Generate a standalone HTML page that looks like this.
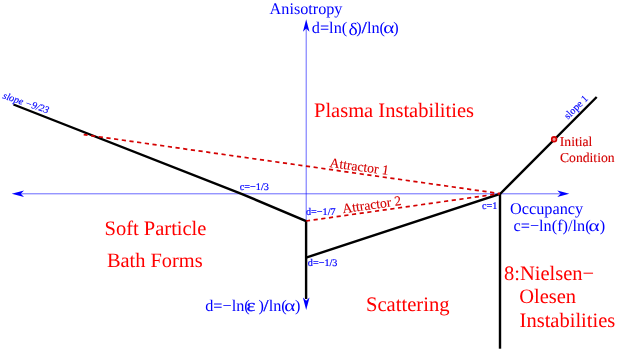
<!DOCTYPE html>
<html><head><meta charset="utf-8">
<style>
html,body{margin:0;padding:0;background:#fff;overflow:hidden;}
svg{display:block;will-change:transform;}
text{font-family:"Liberation Serif",serif;text-rendering:geometricPrecision;}
</style></head>
<body>
<svg width="623" height="351" viewBox="0 0 623 351">
<rect width="623" height="351" fill="#fff"/>
<!-- axes -->
<g stroke="#0000ff" stroke-width="0.6" fill="none">
<line x1="20" y1="193.8" x2="560" y2="193.8"/>
<line x1="306.2" y1="28" x2="306.2" y2="222"/>
</g>
<g fill="#0000ff" stroke="none">
<path d="M11.7 193.8 L24 190.55 L20.8 193.8 L24 197.05 Z"/>
<path d="M569.3 193.8 L557.3 190.55 L560.5 193.8 L557.3 197.05 Z"/>
<path d="M306.2 19.2 L302.95 31.8 L306.2 28.5 L309.45 31.8 Z"/>
</g>
<!-- black lines -->
<g stroke="#000" stroke-width="2.4" fill="none" stroke-linejoin="miter">
<polyline points="13.5,104.5 241.5,193.8 306.1,221.1 306.1,299"/>
<polyline points="306.1,257.6 500,194 596.7,97"/>
<line x1="500" y1="193.8" x2="500" y2="348.7"/>
</g>
<path d="M306.2 310 L302.9 297.5 L306.2 300.8 L309.5 297.5 Z" fill="#0000ff"/>
<!-- red dashed -->
<g stroke="#d40000" stroke-width="1.7" fill="none" stroke-dasharray="4.2 3.55" stroke-dashoffset="0.3">
<line x1="83.7" y1="134.6" x2="499.9" y2="193.6"/>
<line x1="306.2" y1="221" x2="499.9" y2="193.6"/>
</g>
<circle cx="554.1" cy="139.3" r="2.4" fill="#ee9090" stroke="#d40000" stroke-width="1.6"/>
<!-- labels -->
<g fill="#0000ff" font-size="16.3">
<text id="t1" x="269.6" y="14" font-size="16.2">Anisotropy</text>
<text x="311.8" y="33.3">d=ln(</text>
<text transform="translate(348.6,35.4) scale(1.2,1.07)">δ</text>
<text x="356.3" y="33.3">)</text>
<text transform="translate(361.7,33.3) scale(1.1,1)" stroke="#0000ff" stroke-width="0.35">/</text>
<text x="366.9" y="33.3">ln(</text>
<text transform="translate(383.2,33.3) scale(1.3,1)">α</text>
<text x="393.2" y="33.3">)</text>
<text id="t3" x="510" y="213.7">Occupancy</text>
<text x="513.5" y="231.4">c=−ln(f)/ln(</text>
<text transform="translate(588.4,231.4) scale(1.3,1)">α</text>
<text x="599.8" y="231.4">)</text>
<text x="205.2" y="310.8">d=−ln(</text>
<text transform="translate(246.5,310.9) scale(1.3,1.05)" stroke="#0000ff" stroke-width="0.25">ε</text>
<text x="258.4" y="310.8">)</text>
<text transform="translate(263.6,310.8) scale(1.1,1)" stroke="#0000ff" stroke-width="0.35">/</text>
<text x="268.7" y="310.8">ln(</text>
<text transform="translate(284.3,310.8) scale(1.3,1)">α</text>
<text x="295" y="310.8">)</text>
</g>
<g fill="#0000ff" font-size="10.2" stroke="#0000ff" stroke-width="0.2">
<text id="s1" x="239.8" y="190">c=−1/3</text>
<text id="s2" x="306" y="215.4">d=−1/7</text>
<text id="s3" x="307.8" y="265.7">d=−1/3</text>
<text id="s4" x="482" y="209.1">c=1</text>
</g>
<g fill="#0000ff" font-size="10" font-style="italic" stroke="#0000ff" stroke-width="0.15">
<text id="r1" transform="translate(2.2,98.2) rotate(18.5)">slope −9/23</text>
<text id="r2" transform="translate(568,119.7) rotate(-45)" font-style="normal" font-size="10.2">slope 1</text>
</g>
<g fill="#ff0000" font-size="20.5">
<text id="b1" x="314" y="116.8">Plasma Instabilities</text>
<text id="b2" x="104.5" y="235.1">Soft Particle</text>
<text id="b3" x="106.9" y="267.4" font-size="20.4">Bath Forms</text>
<text id="b4" x="366" y="310.8" font-size="20.6">Scattering</text>
<text id="b5" x="504" y="279.6">8:Nielsen−</text>
<text id="b6" x="519.2" y="303.2">Olesen</text>
<text id="b7" x="519.6" y="326.8">Instabilities</text>
</g>
<g fill="#d40000" font-size="13.65" stroke="#d40000" stroke-width="0.12">
<text id="m1" x="559.8" y="145.5">Initial</text>
<text id="m2" x="560" y="162.1">Condition</text>
<text id="m3" transform="translate(329.2,167.0) rotate(7.6)">Attractor 1</text>
<text id="m4" transform="translate(342.9,213.2) rotate(-8.0)">Attractor 2</text>
</g>
</svg>
</body></html>
